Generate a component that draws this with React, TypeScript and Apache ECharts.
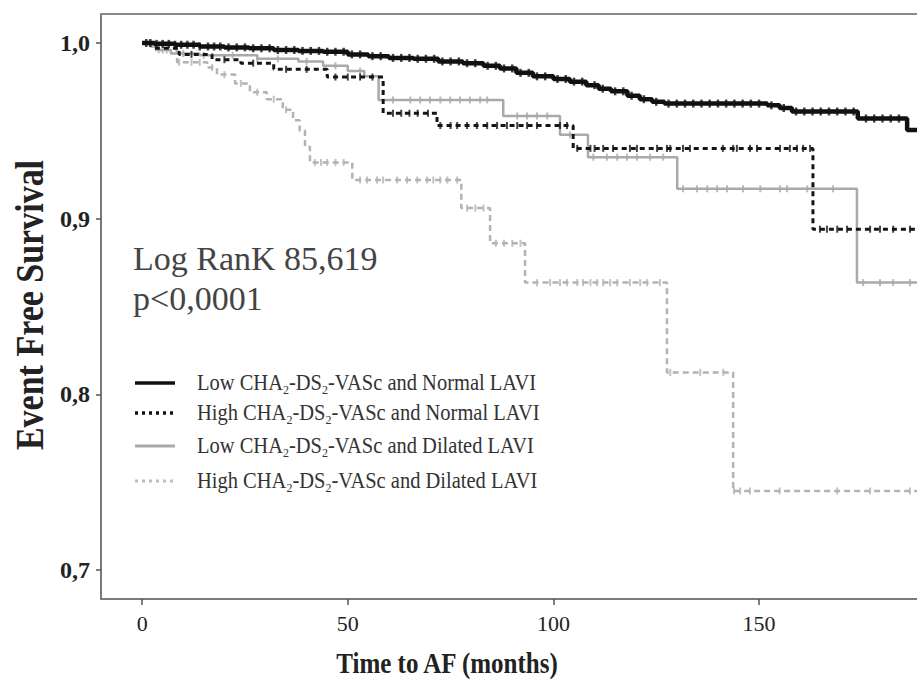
import React, { useEffect, useRef } from "react";
import * as echarts from "echarts";

// Kaplan–Meier step points [months, survival]
const lowNormal: [number, number][] = [
  [0, 1.0], [3, 0.9995], [8, 0.999], [14, 0.998], [20, 0.9975], [26, 0.997], [32, 0.996],
  [38, 0.9955], [44, 0.995], [50, 0.9935], [55, 0.9925], [60, 0.9915], [66, 0.991],
  [72, 0.9895], [78, 0.9885], [83, 0.987], [87, 0.9855], [91, 0.983], [95, 0.981],
  [100, 0.9795], [104, 0.978], [108, 0.976], [111, 0.974], [114, 0.9725], [118, 0.97],
  [121, 0.968], [124, 0.9665], [127, 0.9655], [152, 0.9645], [155, 0.963], [158, 0.961],
  [174, 0.957], [186, 0.9505],
];
const highNormal: [number, number][] = [
  [0, 1.0], [3, 0.997], [9, 0.9935], [17, 0.9905], [24, 0.9885], [32, 0.985], [45, 0.9806],
  [58.6, 0.96], [71.7, 0.953], [104.8, 0.94], [163.1, 0.894],
];
const lowDilated: [number, number][] = [
  [0, 1.0], [2, 0.998], [4, 0.996], [7, 0.994], [14, 0.993], [28, 0.991], [38, 0.9895],
  [44, 0.987], [50, 0.984], [54, 0.981], [57.5, 0.9676], [87.8, 0.9585], [101.6, 0.9477],
  [108.4, 0.935], [130.1, 0.917], [173.8, 0.8636],
];
const highDilated: [number, number][] = [
  [0, 1.0], [3, 0.996], [8.5, 0.989], [15.8, 0.986], [18.2, 0.982], [22.6, 0.977],
  [26.2, 0.972], [30.3, 0.968], [34.2, 0.962], [36.7, 0.956], [38.3, 0.95], [39.6, 0.941],
  [40.8, 0.932], [51.1, 0.922], [77.6, 0.906], [84.6, 0.886], [93.1, 0.8636],
  [127.6, 0.8125], [143.7, 0.745],
];

// censored observation times (months)
const censLowNormal = [
  1, 2, 3.5, 5, 6.5, 8, 9.5, 11, 12.5, 14, 16, 17.5, 19, 21, 23, 25, 27, 29, 31, 33, 35, 37,
  39, 41, 43, 45, 47, 49, 51, 53, 56, 58, 61, 63, 65, 67, 69, 71, 73, 75, 77, 79, 81, 84, 86,
  88, 90, 92, 94, 96, 98, 101, 103, 105, 107, 110, 112, 115, 117, 119, 122, 125, 128, 130,
  132, 134, 136, 138, 140, 142, 144, 146, 148, 150, 153, 156, 159, 161, 163, 165, 167, 169,
  171, 173, 176, 178, 180, 182, 184,
];
const censHighNormal = [
  12, 20, 27, 35, 40, 47, 50, 53, 56, 61, 63, 65, 67, 69.5, 72.5, 75, 76.6, 79, 81.4, 83.9,
  86.3, 88.7, 91.2, 93.6, 96, 101.6, 103.3, 105.8, 109, 110, 112.1, 114.5, 118.6, 120.3,
  125.2, 127.6, 128.4, 131.5, 133.2, 141.2, 143.7, 144.6, 147.8, 149.5, 155.1, 157.5, 159.2,
  160.7, 162.4, 164.8, 166.5, 169, 171.4, 177, 179.4, 182.6, 186.7,
];
const censLowDilated = [
  5, 10, 15, 22, 28, 33, 40, 47, 53, 61, 65.2, 67.6, 70, 72.5, 74.9, 77.3, 79.7, 82.2, 83.9,
  91.2, 93.6, 96, 98.5, 104, 109.7, 113, 115.5, 117.9, 120.3, 123.5, 126.7, 131.5, 134.9,
  137.4, 139.8, 142.2, 146.1, 150.3, 155.1, 156.8, 161.7, 168, 175.3, 179.4, 182.6, 186.7,
];
const censHighDilated = [
  4, 6, 9, 12, 14, 17, 20, 24, 28, 32, 35, 42, 43.5, 45, 47, 49, 53, 54.7, 57.1, 58.6, 62,
  64.4, 66.9, 69.3, 70.8, 72.5, 74.2, 76.6, 79, 81, 83, 86, 88, 90, 92, 96, 99.2, 101.6,
  103.3, 105.8, 107.2, 109, 110.6, 112.1, 113.8, 115.5, 118.6, 121.1, 122.8, 125.9, 128.4,
  135.7, 141.3, 143.9, 145.4, 147.8, 155, 169, 177, 186.7,
];

const xTicks = [0, 50, 100, 150];
const yTicks = [0.7, 0.8, 0.9, 1.0];
const X_MIN = -10;
const X_MAX = 188.4;

const seriesNames = [
  "Low CHA2-DS2-VASc and Normal LAVI",
  "High CHA2-DS2-VASc and Normal LAVI",
  "Low CHA2-DS2-VASc and Dilated LAVI",
  "High CHA2-DS2-VASc and Dilated LAVI",
];
const legendRich = [
  "{a|Low CHA}{b|2}{a|-DS}{b|2}{a|-VASc and Normal LAVI}",
  "{a|High CHA}{b|2}{a|-DS}{b|2}{a|-VASc and Normal LAVI}",
  "{a|Low CHA}{b|2}{a|-DS}{b|2}{a|-VASc and Dilated LAVI}",
  "{a|High CHA}{b|2}{a|-DS}{b|2}{a|-VASc and Dilated LAVI}",
];

const SERIF = "'Liberation Serif', 'Times New Roman', serif";

function withEnd(steps: [number, number][]): [number, number][] {
  return [...steps, [X_MAX, steps[steps.length - 1][1]]];
}
function survAt(steps: [number, number][], t: number): number {
  let v = steps[0][1];
  for (const [x, y] of steps) if (x <= t) v = y;
  return v;
}

export default function App() {
  const ref = useRef<HTMLDivElement>(null);
  useEffect(() => {
    if (!ref.current) return;
    const chart = echarts.init(ref.current, undefined, { renderer: "svg" });
    const styles = [
      { color: "#111111", width: 4.5, type: "solid" as any, steps: lowNormal, cens: censLowNormal, z: 5, sz: [2.5, 8] },
      { color: "#151515", width: 3, type: [5, 4] as any, steps: highNormal, cens: censHighNormal, z: 4, sz: [2, 7] },
      { color: "#a9a9a9", width: 2.5, type: "solid" as any, steps: lowDilated, cens: censLowDilated, z: 3, sz: [2, 7] },
      { color: "#b3b3b3", width: 2.5, type: [6, 4] as any, steps: highDilated, cens: censHighDilated, z: 2, sz: [2, 7] },
    ];
    const series: any[] = [];
    styles.forEach((s, i) => {
      series.push({
        name: seriesNames[i],
        type: "line",
        step: "end",
        showSymbol: false,
        symbol: "none",
        z: s.z,
        data: withEnd(s.steps),
        lineStyle: { color: s.color, width: s.width, type: s.type },
      });
      series.push({
        name: seriesNames[i] + " censored",
        type: "scatter",
        symbol: "rect",
        symbolSize: s.sz,
        z: s.z,
        data: s.cens.map((t) => [t, survAt(s.steps, t)]),
        itemStyle: { color: s.color },
      });
    });

    const legendY = [383, 413, 446, 481];
    const legendLine = [
      { stroke: "#111", lineWidth: 3.5, lineDash: null },
      { stroke: "#111", lineWidth: 3.5, lineDash: [3, 4] },
      { stroke: "#a9a9a9", lineWidth: 3, lineDash: null },
      { stroke: "#bdbdbd", lineWidth: 3, lineDash: [3, 4] },
    ];
    const graphic: any[] = [];
    legendY.forEach((y, i) => {
      graphic.push({
        type: "line",
        shape: { x1: 135, y1: y, x2: 175, y2: y },
        style: { stroke: legendLine[i].stroke, lineWidth: legendLine[i].lineWidth, lineDash: legendLine[i].lineDash },
      });
      graphic.push({
        type: "text",
        x: 197,
        y: y,
        scaleY: 1.08,
        style: {
          text: legendRich[i],
          align: "left",
          textAlign: "left",
          verticalAlign: "middle",
          textVerticalAlign: "middle",
          rich: {
            a: { fontSize: 20.5, fontFamily: SERIF, fill: "#333", lineHeight: 24 },
            b: { fontSize: 12, fontFamily: SERIF, fill: "#333", lineHeight: 24, verticalAlign: "bottom" },
          },
        },
      });
    });
    graphic.push({
      type: "text", x: 133, y: 258,
      style: { text: "Log RanK 85,619", font: `34px ${SERIF}`, fill: "#444", align: "left", textAlign: "left", verticalAlign: "middle", textVerticalAlign: "middle" },
    });
    graphic.push({
      type: "text", x: 133, y: 298,
      style: { text: "p<0,0001", font: `34px ${SERIF}`, fill: "#444", align: "left", textAlign: "left", verticalAlign: "middle", textVerticalAlign: "middle" },
    });
    graphic.push({
      type: "text", x: 447, y: 663, scaleY: 1.15,
      style: { text: "Time to AF (months)", font: `bold 25px ${SERIF}`, fill: "#222", align: "center", textAlign: "center", verticalAlign: "middle", textVerticalAlign: "middle" },
    });
    graphic.push({
      type: "text", x: 30, y: 305, rotation: Math.PI / 2, scaleY: 1.15,
      style: { text: "Event Free Survival", font: `bold 34px ${SERIF}`, fill: "#222", align: "center", textAlign: "center", verticalAlign: "middle", textVerticalAlign: "middle" },
    });

    chart.setOption({
      animation: false,
      backgroundColor: "#ffffff",
      grid: { left: 101, right: 0, top: 14, bottom: 82, containLabel: false },
      xAxis: [
        {
          type: "value", min: X_MIN, max: X_MAX, position: "bottom",
          axisLine: { show: true, onZero: false, lineStyle: { color: "#7a7a7a", width: 2 } },
          axisTick: { show: true, customValues: xTicks, length: 6, lineStyle: { color: "#555", width: 1.5 } },
          axisLabel: { customValues: xTicks, fontFamily: SERIF, fontSize: 22, color: "#222", margin: 13 },
          splitLine: { show: false },
        },
        {
          type: "value", min: X_MIN, max: X_MAX, position: "top",
          axisLine: { show: true, onZero: false, lineStyle: { color: "#8a8a8a", width: 2 } },
          axisTick: { show: false }, axisLabel: { show: false }, splitLine: { show: false },
        },
      ],
      yAxis: {
        type: "value", min: 0.6835, max: 1.0165, position: "left",
        axisLine: { show: true, onZero: false, lineStyle: { color: "#7a7a7a", width: 2 } },
        axisTick: { show: true, customValues: yTicks, length: 5, lineStyle: { color: "#555", width: 1.5 } },
        axisLabel: {
          customValues: yTicks, fontFamily: SERIF, fontSize: 24, fontWeight: "bold", color: "#222", margin: 11,
          formatter: (v: number) => v.toFixed(1).replace(".", ","),
        },
        splitLine: { show: false },
      },
      series,
      graphic,
    });
    return () => chart.dispose();
  }, []);
  return (
    <div
      ref={ref}
      style={{ position: "fixed", left: 0, top: 0, width: 917, height: 681, background: "#fff" }}
    />
  );
}
